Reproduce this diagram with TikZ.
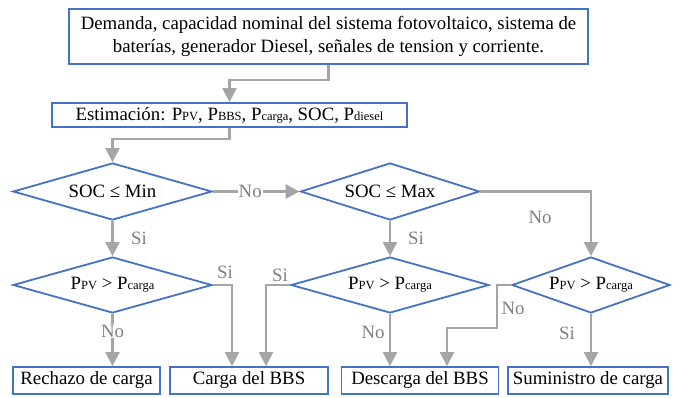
\documentclass[tikz,border=0pt]{standalone}
\usepackage{fontspec}
\setmainfont{Liberation Serif}
\usetikzlibrary{shapes.geometric,arrows.meta,calc}
\definecolor{bblue}{HTML}{4472C4}
\definecolor{lgray}{HTML}{A5A5A5}
\definecolor{tgray}{HTML}{7F7F7F}
\newcommand\sbs[1]{{\fontsize{12.5}{12.5}\selectfont #1}}
\begin{document}
\begin{tikzpicture}[x=1pt,y=-1pt,
  font=\fontsize{18.8}{23.5}\selectfont,
  box/.style={draw=bblue,line width=1.8pt,inner sep=0pt,minimum height=27pt},
  dia/.style={diamond,draw=bblue,line width=1.8pt,inner sep=0pt,aspect=3.5},
  conn/.style={draw=lgray,line width=2.4pt,-{Triangle[width=14pt,length=14pt]}},
  lbl/.style={text=tgray,inner sep=1pt}]
\useasboundingbox (0,0) rectangle (681,397);
\node[box,minimum width=519pt,minimum height=55pt,align=center] (top) at (328.5,36.5)
  {Demanda, capacidad nominal del sistema fotovoltaico, sistema de\\bater\'ias, generador Diesel, se\~nales de tension y corriente.};
\node[box,minimum width=355pt,minimum height=24pt] (est) at (229.5,115)
  {Estimaci\'on: P\sbs{PV}, P\sbs{BBS}, P\sbs{carga}, SOC, P\sbs{diesel}};
\node[dia,minimum width=199pt,minimum height=57pt] (d1) at (112.5,191.5) {SOC ≤ Min};
\node[dia,minimum width=179pt,minimum height=57pt] (d2) at (390,191.5) {SOC ≤ Max};
\node[dia,minimum width=199pt,minimum height=56pt] (d3) at (112.5,285) {P\sbs{PV} > P\sbs{carga}};
\node[dia,minimum width=198pt,minimum height=56pt] (d5) at (390,285) {P\sbs{PV} > P\sbs{carga}};
\node[dia,minimum width=158pt,minimum height=56pt,aspect=2.8] (d6) at (591,285) {P\sbs{PV} > P\sbs{carga}};
\node[box,minimum width=147pt] (b1) at (86.5,380.5) {Rechazo de carga};
\node[box,minimum width=158pt] (b2) at (249,380.5) {Carga del BBS};
\node[box,minimum width=157pt] (b3) at (420,380.5) {Descarga del BBS};
\node[box,minimum width=160pt] (b4) at (588,380.5) {Suministro de carga};
% connectors
\draw[conn] (top.south) -- ++(0,15) -| (est.north);
\draw[conn] (est.south) -- ++(0,11) -| (d1.north);
\draw[conn] (d1.east) -- node[lbl,fill=white,pos=0.43]{No} (d2.west);
\draw[conn] (d2.east) -| (d6.north);
\node[lbl] (l1) at (540,217) {No};
\draw[conn] (d1.south) -- (d3.north);
\node[lbl] (l2) at (139,238) {Si};
\draw[conn] (d2.south) -- (d5.north);
\node[lbl] (l3) at (416,238) {Si};
\draw[conn] (d3.east) -| ([xshift=-17pt]b2.north);
\node[lbl] (l4) at (225,272) {Si};
\draw[conn] (d5.west) -| ([xshift=17pt]b2.north);
\node[lbl] (l5) at (280,275) {Si};
\draw[conn] (d3.south) -- (d3.south |- b1.north) node[lbl,fill=white,pos=0.33]{No};
\draw[conn] (d5.south) -- (d5.south |- b3.north);
\node[lbl] (l6) at (373,332) {No};
\draw[conn] (d6.west) -- ++(-14,0) -- ++(0,43) -| ([xshift=27pt]b3.north);
\node[lbl] (l7) at (513,308) {No};
\draw[conn] (d6.south) -- (d6.south |- b4.north);
\node[lbl] (l8) at (567,333) {Si};
\end{tikzpicture}
\end{document}
